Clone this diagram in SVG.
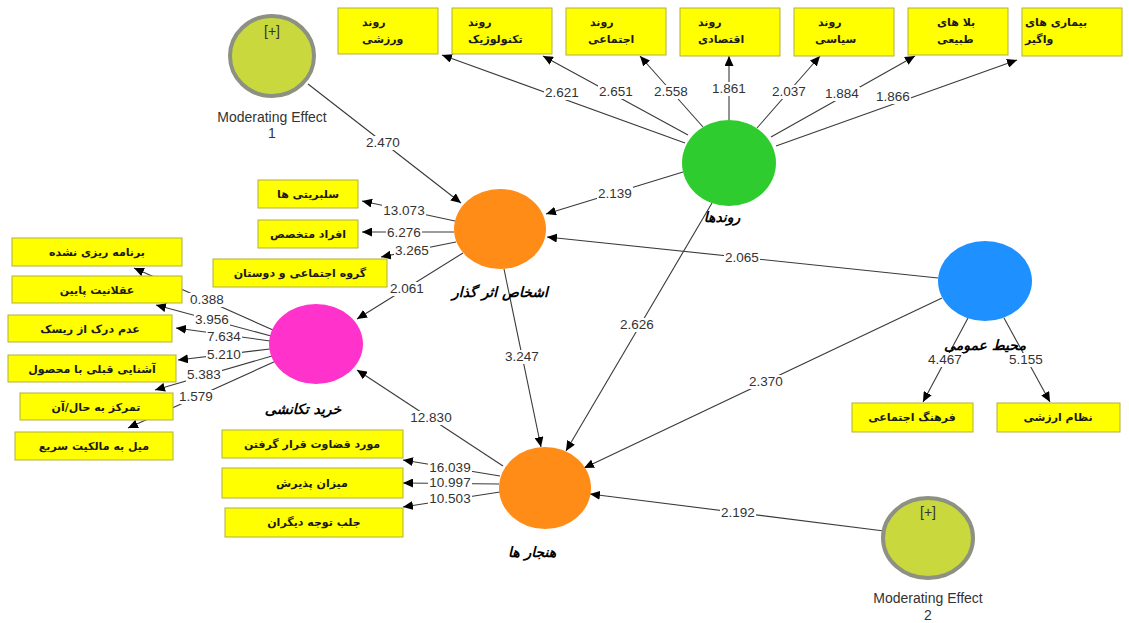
<svg xmlns="http://www.w3.org/2000/svg" width="1129" height="623" viewBox="0 0 1129 623">
<style>
.bx{fill:#ffff00;stroke:#b0b040;stroke-width:1}
.bt{font-family:"DejaVu Sans",sans-serif;font-weight:bold;font-size:11px;fill:#1a1a1a}
.c{stroke:#3a3a3a;stroke-width:1.1;fill:none;marker-end:url(#ah)}
.n{font-family:"Liberation Sans",Arial,sans-serif;font-size:13.5px;fill:#333;text-anchor:middle}
.lb{fill:#fff}
.nl{font-family:"DejaVu Sans",sans-serif;font-weight:bold;font-style:italic;font-size:14px;fill:#000;text-anchor:middle}
.me{font-family:"Liberation Sans",Arial,sans-serif;font-size:14px;fill:#333;text-anchor:middle}
.mod{fill:#c9d83c;stroke:#8d9182;stroke-width:4}
</style>
<defs>
<marker id="ah" markerUnits="userSpaceOnUse" markerWidth="11" markerHeight="9" refX="10" refY="4.5" orient="auto">
<path d="M0,0 L10,4.5 L0,9 z" fill="#000"/>
</marker>
</defs>
<rect width="1129" height="623" fill="#fff"/>
<g id="connectors">
<line class="c" x1="685" y1="143" x2="442" y2="55"/>
<line class="c" x1="688" y1="135" x2="543" y2="56"/>
<line class="c" x1="703" y1="127" x2="640" y2="56"/>
<line class="c" x1="729" y1="120" x2="729" y2="56"/>
<line class="c" x1="757" y1="128" x2="820" y2="56"/>
<line class="c" x1="771" y1="137" x2="915" y2="56"/>
<line class="c" x1="776" y1="146" x2="1017" y2="60"/>
<line class="c" x1="308" y1="84" x2="461" y2="203"/>
<line class="c" x1="683" y1="172" x2="546" y2="214"/>
<line class="c" x1="938" y1="278" x2="547" y2="237"/>
<line class="c" x1="455" y1="221" x2="362" y2="201"/>
<line class="c" x1="454" y1="232" x2="362" y2="232"/>
<line class="c" x1="456" y1="242" x2="381" y2="257"/>
<line class="c" x1="463" y1="253" x2="357" y2="319"/>
<line class="c" x1="504" y1="269" x2="541" y2="447"/>
<line class="c" x1="712" y1="203" x2="566" y2="451"/>
<line class="c" x1="942" y1="298" x2="584" y2="468"/>
<line class="c" x1="884" y1="531" x2="590" y2="494"/>
<line class="c" x1="503" y1="466" x2="357" y2="370"/>
<line class="c" x1="500" y1="476" x2="403" y2="460"/>
<line class="c" x1="499" y1="484" x2="403" y2="483"/>
<line class="c" x1="500" y1="492" x2="403" y2="507"/>
<line class="c" x1="273" y1="330" x2="134" y2="268"/>
<line class="c" x1="271" y1="336" x2="156" y2="305"/>
<line class="c" x1="270" y1="341" x2="176" y2="328"/>
<line class="c" x1="270" y1="349" x2="178" y2="360"/>
<line class="c" x1="272" y1="356" x2="155" y2="390"/>
<line class="c" x1="276" y1="361" x2="128" y2="428"/>
<line class="c" x1="968" y1="318" x2="923" y2="402"/>
<line class="c" x1="1004" y1="318" x2="1050" y2="402"/>
</g>
<g id="top-boxes">
<g id="b-varzeshi"><rect class="bx" x="338" y="8" width="100" height="46"/><text class="bt" x="362" y="26">روند</text><text class="bt" x="362" y="43">ورزشی</text></g>
<g id="b-tech"><rect class="bx" x="452" y="8" width="100" height="46"/><text class="bt" x="468" y="26">روند</text><text class="bt" x="468" y="43">تکنولوژیک</text></g>
<g id="b-ejtemai"><rect class="bx" x="566" y="8" width="100" height="47"/><text class="bt" x="590" y="26">روند</text><text class="bt" x="588" y="43">اجتماعی</text></g>
<g id="b-eghtesadi"><rect class="bx" x="680" y="8" width="100" height="48"/><text class="bt" x="698" y="26">روند</text><text class="bt" x="698" y="43">اقتصادی</text></g>
<g id="b-siasi"><rect class="bx" x="794" y="8" width="100" height="48"/><text class="bt" x="818" y="26">روند</text><text class="bt" x="815" y="43">سیاسی</text></g>
<g id="b-bala"><rect class="bx" x="908" y="8" width="100" height="47"/><text class="bt" x="937" y="26">بلا های</text><text class="bt" x="937" y="43">طبیعی</text></g>
<g id="b-bimari"><rect class="bx" x="1022" y="8" width="100" height="48"/><text class="bt" x="1025" y="26">بیماری های</text><text class="bt" x="1025" y="43">واگیر</text></g>
</g>
<g id="left-boxes" text-anchor="middle">
<g id="b-celeb"><rect class="bx" x="258" y="180" width="100" height="28"/><text class="bt" x="308" y="198">سلبریتی ها</text></g>
<g id="b-experts"><rect class="bx" x="258" y="220" width="100" height="28"/><text class="bt" x="308" y="238">افراد متخصص</text></g>
<g id="b-group"><rect class="bx" x="213" y="259" width="174" height="28"/><text class="bt" x="300" y="277">گروه اجتماعی و دوستان</text></g>
<g id="b-unplanned"><rect class="bx" x="12" y="238" width="170" height="28"/><text class="bt" x="97" y="256">برنامه ریزی نشده</text></g>
<g id="b-lowrational"><rect class="bx" x="12" y="276" width="170" height="27"/><text class="bt" x="97" y="294">عقلانیت پایین</text></g>
<g id="b-risk"><rect class="bx" x="8" y="315" width="164" height="27"/><text class="bt" x="90" y="333">عدم درک از ریسک</text></g>
<g id="b-familiar"><rect class="bx" x="8" y="355" width="168" height="27"/><text class="bt" x="92" y="373">آشنایی قبلی با محصول</text></g>
<g id="b-present"><rect class="bx" x="20" y="393" width="153" height="27"/><text class="bt" x="96" y="411">تمرکز به حال/آن</text></g>
<g id="b-own"><rect class="bx" x="15" y="432" width="158" height="28"/><text class="bt" x="94" y="450">میل به مالکیت سریع</text></g>
<g id="b-judged"><rect class="bx" x="222" y="430" width="181" height="28"/><text class="bt" x="312" y="448">مورد قضاوت قرار گرفتن</text></g>
<g id="b-accept"><rect class="bx" x="222" y="468" width="181" height="30"/><text class="bt" x="312" y="487">میزان پذیرش</text></g>
<g id="b-attention"><rect class="bx" x="225" y="508" width="178" height="29"/><text class="bt" x="314" y="526">جلب توجه دیگران</text></g>
<g id="b-culture"><rect class="bx" x="852" y="403" width="121" height="29"/><text class="bt" x="912" y="421">فرهنگ اجتماعی</text></g>
<g id="b-values"><rect class="bx" x="997" y="403" width="123" height="29"/><text class="bt" x="1058" y="421">نظام ارزشی</text></g>
</g>
<g id="node-me1"><ellipse class="mod" cx="272" cy="56" rx="42" ry="40"/><text class="me" x="272" y="36" font-size="11">[+]</text><text class="me" x="272" y="122">Moderating Effect</text><text class="me" x="272" y="138">1</text></g>
<g id="node-me2"><ellipse class="mod" cx="928" cy="538" rx="45" ry="40"/><text class="me" x="928" y="517" font-size="11">[+]</text><text class="me" x="928" y="603">Moderating Effect</text><text class="me" x="928" y="620">2</text></g>
<g id="node-ravandha"><ellipse cx="729" cy="163" rx="47" ry="43" fill="#2ecc2e"/><text class="nl" x="722" y="222">روندها</text></g>
<g id="node-ashkhas"><ellipse cx="500" cy="229" rx="46" ry="40" fill="#ff8c17"/><text class="nl" x="500" y="297">اشخاص اثر گذار</text></g>
<g id="node-kharid"><ellipse cx="316" cy="344" rx="47" ry="40" fill="#ff33cc"/><text class="nl" x="303" y="414">خرید تکانشی</text></g>
<g id="node-mohit"><ellipse cx="985" cy="281" rx="47" ry="40" fill="#1e90ff"/><text class="nl" x="985" y="350">محیط عمومی</text></g>
<g id="node-hanjar"><ellipse cx="545" cy="488" rx="46" ry="41" fill="#ff8c17"/><text class="nl" x="532" y="557">هنجار ها</text></g>
<g id="label-bg">
<rect class="lb" x="544" y="86" width="36" height="14"/>
<rect class="lb" x="598" y="85" width="36" height="14"/>
<rect class="lb" x="653" y="85" width="36" height="14"/>
<rect class="lb" x="711" y="82" width="36" height="14"/>
<rect class="lb" x="771" y="85" width="36" height="14"/>
<rect class="lb" x="824" y="87" width="36" height="14"/>
<rect class="lb" x="875" y="90" width="36" height="14"/>
<rect class="lb" x="365" y="136" width="36" height="14"/>
<rect class="lb" x="597" y="187" width="36" height="14"/>
<rect class="lb" x="724" y="251" width="36" height="14"/>
<rect class="lb" x="382" y="204" width="44" height="14"/>
<rect class="lb" x="386" y="226" width="36" height="14"/>
<rect class="lb" x="394" y="244" width="36" height="14"/>
<rect class="lb" x="389" y="282" width="36" height="14"/>
<rect class="lb" x="504" y="350" width="36" height="14"/>
<rect class="lb" x="619" y="318" width="36" height="14"/>
<rect class="lb" x="748" y="375" width="36" height="14"/>
<rect class="lb" x="720" y="506" width="36" height="14"/>
<rect class="lb" x="409" y="411" width="44" height="14"/>
<rect class="lb" x="428" y="461" width="44" height="14"/>
<rect class="lb" x="428" y="476" width="44" height="14"/>
<rect class="lb" x="428" y="492" width="44" height="14"/>
<rect class="lb" x="189" y="293" width="36" height="14"/>
<rect class="lb" x="194" y="313" width="36" height="14"/>
<rect class="lb" x="206" y="330" width="36" height="14"/>
<rect class="lb" x="206" y="348" width="36" height="14"/>
<rect class="lb" x="186" y="368" width="36" height="14"/>
<rect class="lb" x="178" y="390" width="36" height="14"/>
<rect class="lb" x="927" y="353" width="36" height="14"/>
<rect class="lb" x="1008" y="353" width="36" height="14"/>
</g>
<g id="labels">
<text class="n" x="562" y="97">2.621</text>
<text class="n" x="616" y="96">2.651</text>
<text class="n" x="671" y="96">2.558</text>
<text class="n" x="729" y="93">1.861</text>
<text class="n" x="789" y="96">2.037</text>
<text class="n" x="842" y="98">1.884</text>
<text class="n" x="893" y="101">1.866</text>
<text class="n" x="383" y="147">2.470</text>
<text class="n" x="615" y="198">2.139</text>
<text class="n" x="742" y="262">2.065</text>
<text class="n" x="404" y="215">13.073</text>
<text class="n" x="404" y="237">6.276</text>
<text class="n" x="412" y="255">3.265</text>
<text class="n" x="407" y="293">2.061</text>
<text class="n" x="522" y="361">3.247</text>
<text class="n" x="637" y="329">2.626</text>
<text class="n" x="766" y="386">2.370</text>
<text class="n" x="738" y="517">2.192</text>
<text class="n" x="431" y="422">12.830</text>
<text class="n" x="450" y="472">16.039</text>
<text class="n" x="450" y="487">10.997</text>
<text class="n" x="450" y="503">10.503</text>
<text class="n" x="207" y="304">0.388</text>
<text class="n" x="212" y="324">3.956</text>
<text class="n" x="224" y="341">7.634</text>
<text class="n" x="224" y="359">5.210</text>
<text class="n" x="204" y="379">5.383</text>
<text class="n" x="196" y="401">1.579</text>
<text class="n" x="945" y="364">4.467</text>
<text class="n" x="1026" y="364">5.155</text>
</g>
</svg>
